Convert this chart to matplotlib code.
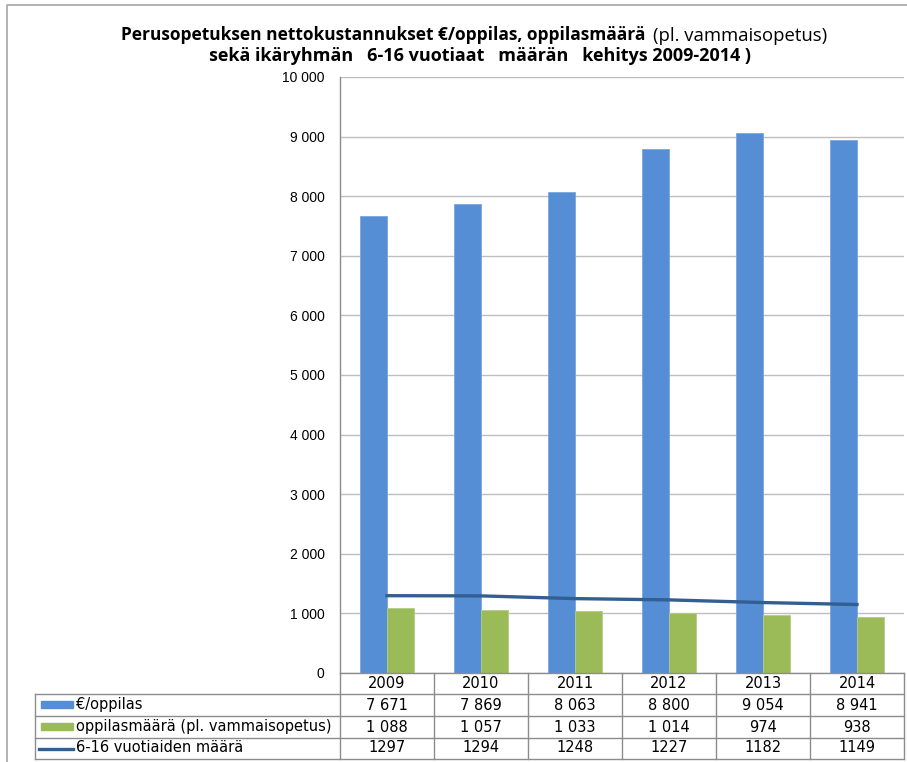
import matplotlib.pyplot as plt
import matplotlib.transforms as mtransforms
from matplotlib.patches import Rectangle
from matplotlib.lines import Line2D

years = ["2009", "2010", "2011", "2012", "2013", "2014"]
cost_per_pupil = [7671, 7869, 8063, 8800, 9054, 8941]
pupil_count = [1088, 1057, 1033, 1014, 974, 938]
age_6_16 = [1297, 1294, 1248, 1227, 1182, 1149]

row_labels = ["€/oppilas", "oppilasmäärä (pl. vammaisopetus)", "6-16 vuotiaiden määrä"]

BLUE = "#558ED5"
GREEN = "#9BBB59"
LINE = "#335E92"
GRID = "#BEBEBE"
BORDER = "#8C8C8C"

W, H = 907, 762


def fx(x):
    return x / W


def fy(y):
    return 1 - y / H


def fmt_space(v):
    # thousands separated by a space, like the source
    return f"{v:,}".replace(",", " ")


fig = plt.figure(figsize=(W / 100, H / 100), dpi=100)

# plot area: left 340, right 904, top 77, bottom 673 (pixels)
ax = fig.add_axes([fx(340), fy(673), fx(904) - fx(340), fy(77) - fy(673)])

x = list(range(len(years)))
bw = 0.29
ax.bar([i - bw / 2 for i in x], cost_per_pupil, width=bw, color=BLUE,
       edgecolor="#7AA6DE", linewidth=0.6, zorder=2)
ax.bar([i + bw / 2 for i in x], pupil_count, width=bw, color=GREEN,
       edgecolor="#B5CC85", linewidth=0.6, zorder=2)
ax.plot(x, age_6_16, color=LINE, linewidth=2.4, zorder=3)

ax.set_xlim(-0.5, len(years) - 0.5)
ax.set_ylim(0, 10000)
ax.set_yticks(range(0, 10001, 1000))
ax.set_yticklabels([fmt_space(v) for v in range(0, 10001, 1000)],
                   fontsize=10, family="Liberation Sans")
ax.tick_params(axis="y", length=0, pad=11)
ax.set_xticks([])
ax.grid(axis="y", color=GRID, linewidth=1.0, zorder=0)
for s in ["top", "right", "bottom"]:
    ax.spines[s].set_visible(False)
ax.spines["left"].set_color(BORDER)
ax.spines["left"].set_linewidth(1.0)

# data table under the plot
tr = mtransforms.blended_transform_factory(ax.transData, fig.transFigure)
row_lines = [694, 716, 737.5, 759]
row_centers = [705, 727, 748]
x0, x1 = -0.5, len(years) - 0.5

def hline(xa, xb, y, transform):
    fig.add_artist(Line2D([xa, xb], [fy(y), fy(y)], transform=transform,
                          color=BORDER, linewidth=1.0))

def vline(xv, ya, yb, transform):
    fig.add_artist(Line2D([xv, xv], [fy(ya), fy(yb)], transform=transform,
                          color=BORDER, linewidth=1.0))

hline(x0, x1, 673, tr)
for y in row_lines:
    fig.add_artist(Line2D([fx(35), fx(904)], [fy(y), fy(y)],
                          transform=fig.transFigure, color=BORDER, linewidth=1.0))
vline(fx(35), 694, 759, fig.transFigure)
for i in range(len(years) + 1):
    vline(i - 0.5, 673, 759, tr)

tkw = dict(family="DejaVu Sans", fontsize=10.5, ha="center", va="center")
for i, yr in enumerate(years):
    fig.text(i, fy(684), yr, transform=tr, **tkw)
    fig.text(i, fy(row_centers[0]), fmt_space(cost_per_pupil[i]), transform=tr, **tkw)
    fig.text(i, fy(row_centers[1]), fmt_space(pupil_count[i]), transform=tr, **tkw)
    fig.text(i, fy(row_centers[2]), str(age_6_16[i]), transform=tr, **tkw)

# row labels with legend keys
fig.add_artist(Rectangle((fx(41), fy(708)), fx(73) - fx(41), fy(701) - fy(708),
                         transform=fig.transFigure, color=BLUE))
fig.add_artist(Rectangle((fx(41), fy(730)), fx(73) - fx(41), fy(723) - fy(730),
                         transform=fig.transFigure, color=GREEN))
fig.add_artist(Line2D([fx(39), fx(73)], [fy(748.5), fy(748.5)],
                      transform=fig.transFigure, color=LINE, linewidth=2.4))
for lbl, yc in zip(row_labels, row_centers):
    fig.text(fx(76), fy(yc), lbl, family="DejaVu Sans", fontsize=10.5,
             ha="left", va="center")

# title
fig.text(fx(645), fy(35), "Perusopetuksen nettokustannukset €/oppilas, oppilasmäärä",
         family="Open Sans", fontweight="bold", fontsize=12.5, ha="right", va="center")
fig.text(fx(653), fy(36), "(pl. vammaisopetus)", family="Open Sans",
         fontsize=13.3, ha="left", va="center")
fig.text(fx(480), fy(56), "sekä ikäryhmän   6-16 vuotiaat   määrän   kehitys 2009-2014 )",
         family="Open Sans", fontweight="bold", fontsize=13, ha="center", va="center")

# outer chart border
fig.add_artist(Line2D([fx(7), fx(7), fx(907)], [fy(762), fy(5), fy(5)],
                      transform=fig.transFigure, color="#A6A6A6", linewidth=1.2))

fig.savefig("out.png", dpi=100)
